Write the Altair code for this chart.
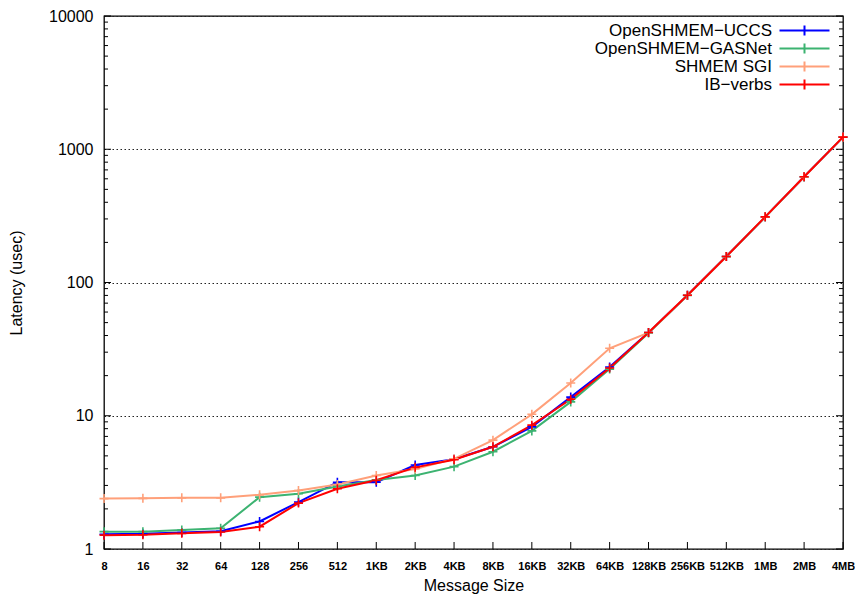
import altair as alt
import pandas as pd

sizes = ["8", "16", "32", "64", "128", "256", "512", "1KB", "2KB", "4KB", "8KB",
         "16KB", "32KB", "64KB", "128KB", "256KB", "512KB", "1MB", "2MB", "4MB"]

series_names = ["OpenSHMEM\u2212UCCS", "OpenSHMEM\u2212GASNet", "SHMEM SGI", "IB\u2212verbs"]
series_colors = ["#0000ff", "#3cb371", "#ffa07a", "#ff0000"]

uccs = [1.29, 1.30, 1.33, 1.36, 1.61, 2.25, 3.17, 3.17, 4.27, 4.72, 5.85, 8.25,
        13.8, 23.2, 42.1, 80.3, 156.8, 311, 621, 1234]
gasnet = [1.35, 1.35, 1.39, 1.43, 2.45, 2.60, 2.95, 3.30, 3.56, 4.15, 5.37, 7.70,
          12.7, 22.4, 41.8, 80.0, 156.5, 310, 620, 1233]
sgi = [2.39, 2.40, 2.42, 2.42, 2.55, 2.75, 3.05, 3.56, 3.99, 4.75, 6.56, 10.25,
       17.6, 32.1, 42.1, 80.3, 156.8, 311, 621, 1234]
ibverbs = [1.27, 1.28, 1.31, 1.34, 1.47, 2.21, 2.83, 3.28, 4.10, 4.68, 5.85, 8.50,
           13.3, 22.8, 42.1, 80.3, 156.8, 311, 621, 1234]

major_ticks = [1, 10, 100, 1000, 10000]
minor_ticks = [m * d for d in [1, 10, 100, 1000] for m in range(2, 10)]

rows = []
for i, (name, vals) in enumerate(zip(series_names, [uccs, gasnet, sgi, ibverbs])):
    for s, v in zip(sizes, vals):
        rows.append({"size": s, "latency": v, "series": name, "series_idx": i})
df = pd.DataFrame(rows)

df_major = pd.DataFrame({"latency": major_ticks})
df_minor = pd.DataFrame({"latency": minor_ticks})
df_x = pd.DataFrame({"size": sizes})

W, H = 739, 533
FONT = "Liberation Sans"
plus = "M-1,0H1M0,-1V1"

xscale = alt.Scale(type="point", domain=sizes, padding=0)
yscale = alt.Scale(type="log", domain=[1, 10000], nice=False)

xaxis = alt.Axis(orient="bottom", title="Message Size", labelAngle=0,
                 labelFont=FONT, labelFontSize=11, labelFontWeight="bold",
                 labelColor="black", labelPadding=11, ticks=False, tickSize=0,
                 domain=False, grid=False, labelOverlap=False, labelFlush=False,
                 titleFont=FONT, titleFontSize=16, titleFontWeight="normal",
                 titleColor="black", titleY=41.5, titleBaseline="alphabetic")
yaxis = alt.Axis(orient="left", title="Latency (usec)", values=major_ticks,
                 format="d", labelFont=FONT, labelFontSize=16, labelColor="black",
                 labelPadding=11, ticks=False, tickSize=0, domain=False,
                 grid=True, gridColor="#222222", gridDash=[1.5, 2.5], gridWidth=1,
                 titleFont=FONT, titleFontSize=16, titleFontWeight="normal",
                 titleColor="black", titleX=-88, titleY=H / 2,
                 titleAngle=270, titleBaseline="middle")

lines = alt.Chart(df).mark_line(
    strokeWidth=2,
    point=alt.OverlayMarkDef(shape=plus, filled=False, size=81, strokeWidth=1.6),
).encode(
    x=alt.X("size:N", sort=sizes, scale=xscale, axis=xaxis),
    y=alt.Y("latency:Q", scale=yscale, axis=yaxis),
    color=alt.Color("series:N", sort=series_names,
                    scale=alt.Scale(domain=series_names, range=series_colors),
                    legend=alt.Legend(title=None, orient="none", legendX=672, legendY=6,
                                      symbolType="M-1,0H9M4,-1V1", symbolSize=100,
                                      symbolStrokeWidth=2, symbolFillColor="transparent",
                                      labelAlign="right", labelOffset={"expr": "-21"},
                                      labelFont=FONT, labelFontSize=17, labelColor="black",
                                      labelLimit=400, rowPadding={"expr": "-2.4"},
                                      padding=0)),
    order=alt.Order("series_idx:Q"),
)


def yrules(data, side, length):
    if side == "left":
        xa, xb = alt.value(0), alt.value(length)
    else:
        xa, xb = alt.value(W), alt.value(W - length)
    return alt.Chart(data).mark_rule(color="black", strokeWidth=1).encode(
        y=alt.Y("latency:Q", scale=yscale, axis=yaxis),
        x=xa, x2=xb,
    )


xrules = alt.Chart(df_x).mark_rule(color="black", strokeWidth=1).encode(
    x=alt.X("size:N", sort=sizes, scale=xscale, axis=xaxis),
    y=alt.value(H), y2=alt.value(H - 7),
)

chart = alt.layer(
    lines,
    yrules(df_major, "left", 7),
    yrules(df_minor, "left", 4),
    yrules(df_major, "right", 7),
    yrules(df_minor, "right", 4),
    xrules,
).properties(
    width=W, height=H,
    autosize=alt.AutoSizeParams(type="none"),
    padding={"left": 96, "top": 8, "right": 12, "bottom": 45},
).configure_view(stroke="black", strokeWidth=1.3)

chart.save("out.html", embed_options={"renderer": "svg", "actions": False})
